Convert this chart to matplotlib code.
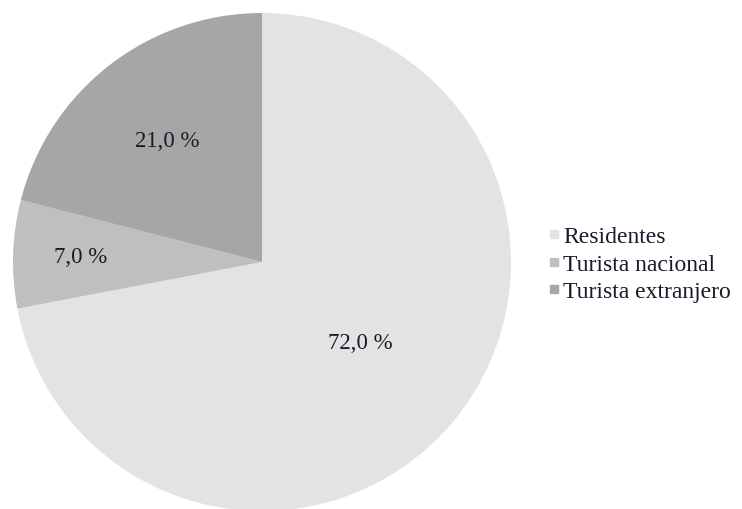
import matplotlib.pyplot as plt
import numpy as np

categories = ['Residentes', 'Turista nacional', 'Turista extranjero']
shares = [72.0, 7.0, 21.0]
colors = ['#e3e3e3', '#bfbfbf', '#a6a6a6']
label_dist = [0.51, 0.73, 0.62]

plt.rcParams['font.family'] = ['Liberation Serif', 'DejaVu Serif']

W, H = 742, 510
fig = plt.figure(figsize=(W / 100, H / 100), dpi=100)
# pie centre ~ (262, 263) px, radius ~249 px
cx, cy, r = 262, 263, 249
ax = fig.add_axes([(cx - r) / W, (H - cy - r) / H, 2 * r / W, 2 * r / H])

wedges, _ = ax.pie(shares, colors=colors, startangle=90, counterclock=False,
                   radius=1, wedgeprops=dict(linewidth=0))

for w, v, d in zip(wedges, shares, label_dist):
    ang = np.deg2rad((w.theta1 + w.theta2) / 2)
    ax.text(d * np.cos(ang), d * np.sin(ang), f"{v:.1f} %".replace('.', ','),
            ha='center', va='center', fontsize=16.5, color='#1a1a2a')

ax.set_xlim(-1, 1)
ax.set_ylim(-1, 1)
ax.set_aspect('equal')
ax.axis('off')

handles = [plt.Line2D([], [], marker='s', linestyle='', markersize=5.5,
                      markerfacecolor=c, markeredgecolor=c) for c in colors]
fig.legend(handles, categories, loc='center left',
           bbox_to_anchor=(537 / W, 1 - 265 / H), frameon=False,
           fontsize=17, handlelength=0.45, handletextpad=0.15,
           labelspacing=0.25, borderpad=0, labelcolor='#1a1a2a')

fig.savefig('out.png', dpi=100)
